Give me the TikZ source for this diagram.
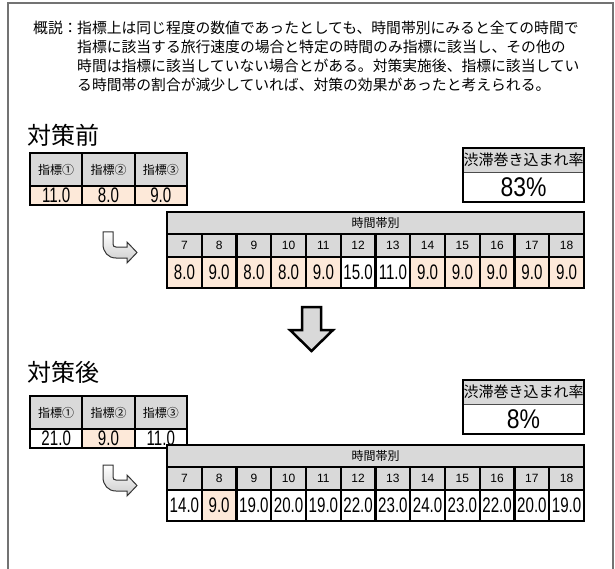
\documentclass[tikz,border=0pt]{standalone}
\usepackage{fontspec}
\newfontfamily\jp{Noto Sans CJK JP}
\newfontfamily\estreita[FakeStretch=0.72]{Liberation Sans}
\newfontfamily\largo[FakeStretch=0.85]{Liberation Sans}
\newfontfamily\arial{Liberation Sans}
\definecolor{cinza}{HTML}{D9D9D9}
\definecolor{pessego}{HTML}{FDE9D9}

\begin{document}
\begin{tikzpicture}[x=1pt, y=-1pt,
            txt/.style={inner sep=0, anchor=west, font=\jp\fontsize{14.8}{17}\selectfont},
            titulo/.style={inner sep=0, anchor=west, font=\jp\fontsize{24}{28}\selectfont},
            cel/.style={draw=black, line width=2.2pt, inner sep=0, fill=white},
            ind/.style={cel, fill=cinza, minimum width=52.3pt, minimum height=33pt, font=\jp\fontsize{12}{14}\selectfont},
            indval/.style={cel, minimum width=52.3pt, minimum height=19pt, font=\estreita\fontsize{21}{21}\selectfont},
            faixa/.style={cel, fill=cinza, minimum width=417pt, minimum height=22pt, font=\jp\fontsize{12}{14}\selectfont},
            hora/.style={cel, fill=cinza, minimum width=34.75pt, minimum height=23pt, font=\arial\fontsize{12}{14}\selectfont},
            val/.style={cel, minimum width=34.75pt, minimum height=31pt, font=\estreita\fontsize{21}{21}\selectfont},
            ok/.style={fill=pessego},
            taxacab/.style={inner sep=0, fill=cinza, minimum width=121pt, minimum height=24pt, font=\jp\fontsize{15}{17}\selectfont},
            taxaval/.style={inner sep=0, fill=white, minimum width=121pt, minimum height=30pt, font=\largo\fontsize{27}{27}\selectfont},
            curva/.style={draw=black!80, line width=1pt, top color=white, bottom color=black!20},
            baixo/.style={draw=black, line width=2.5pt, fill=cinza, line join=miter},
        ]
        \useasboundingbox (0,0) rectangle (615,569);
        \draw[black!55, line width=1.5pt] (8,575) -- (8,3) -- (613,3) -- (613,575);

        % resumo
        \node[txt] (rot) at (33,28) {概説：};
        \node[txt] (l1) at (77,28) {指標上は同じ程度の数値であったとしても、時間帯別にみると全ての時間で};
        \node[txt] (l2) at (77,47) {指標に該当する旅行速度の場合と特定の時間のみ指標に該当し、その他の};
        \node[txt] (l3) at (77,66) {時間は指標に該当していない場合とがある。対策実施後、指標に該当してい};
        \node[txt] (l4) at (77,85) {る時間帯の割合が減少していれば、対策の効果があったと考えられる。};

        % antes
        \node[titulo] (antes) at (27,135) {対策前};
        \node[ind] (i1) at (56.2,169.5) {指標①};
        \node[ind] (i2) at (108.5,169.5) {指標②};
        \node[ind] (i3) at (160.8,169.5) {指標③};
        \node[indval, ok] (n1) at (56.2,195.5) {11.0};
        \node[indval, ok] (n2) at (108.5,195.5) {8.0};
        \node[indval, ok] (n3) at (160.8,195.5) {9.0};

        \node[taxacab] (ta) at (523.5,160) {渋滞巻き込まれ率};
        \node[taxaval] (tv) at (523.5,187) {83\%};
        \draw[black!70, line width=0.8pt] (ta.south west) -- (ta.south east);
        \draw[line width=2.5pt] (ta.north west) rectangle (tv.south east);

        \node[faixa] (fa) at (375.5,223) {時間帯別};
        \node[hora] (ha7) at (184.4,245.5) {7};
        \node[hora] (ha8) at (219.1,245.5) {8};
        \node[hora] (ha9) at (253.9,245.5) {9};
        \node[hora] (ha10) at (288.6,245.5) {10};
        \node[hora] (ha11) at (323.4,245.5) {11};
        \node[hora] (ha12) at (358.1,245.5) {12};
        \node[hora] (ha13) at (392.9,245.5) {13};
        \node[hora] (ha14) at (427.6,245.5) {14};
        \node[hora] (ha15) at (462.4,245.5) {15};
        \node[hora] (ha16) at (497.1,245.5) {16};
        \node[hora] (ha17) at (531.9,245.5) {17};
        \node[hora] (ha18) at (566.6,245.5) {18};
        \node[val, ok] (va7) at (184.4,272.5) {8.0};
        \node[val, ok] (va8) at (219.1,272.5) {9.0};
        \node[val, ok] (va9) at (253.9,272.5) {8.0};
        \node[val, ok] (va10) at (288.6,272.5) {8.0};
        \node[val, ok] (va11) at (323.4,272.5) {9.0};
        \node[val] (va12) at (358.1,272.5) {15.0};
        \node[val] (va13) at (392.9,272.5) {11.0};
        \node[val, ok] (va14) at (427.6,272.5) {9.0};
        \node[val, ok] (va15) at (462.4,272.5) {9.0};
        \node[val, ok] (va16) at (497.1,272.5) {9.0};
        \node[val, ok] (va17) at (531.9,272.5) {9.0};
        \node[val, ok] (va18) at (566.6,272.5) {9.0};

        \draw[curva] (103,232) -- (103,244) .. controls (103,252) and (108,258) .. (116,258)
            -- (127,258) -- (127,263) -- (137,252.5) -- (127,242) -- (127,247) -- (116,247)
            .. controls (114,247) and (113,246) .. (113,244) -- (113,232) -- cycle;

        % seta
        \draw[baixo] (302,307) -- (321,307) -- (321,330) -- (333,330) -- (311.5,351)
            -- (290,330) -- (302,330) -- cycle;

        % depois
        \node[titulo] (depois) at (27,372) {対策後};
        \node[ind] (j1) at (56.2,412.5) {指標①};
        \node[ind] (j2) at (108.5,412.5) {指標②};
        \node[ind] (j3) at (160.8,412.5) {指標③};
        \node[indval] (m1) at (56.2,438.5) {21.0};
        \node[indval, ok] (m2) at (108.5,438.5) {9.0};
        \node[indval] (m3) at (160.8,438.5) {11.0};

        \node[taxacab] (tb) at (523.5,392) {渋滞巻き込まれ率};
        \node[taxaval] (tw) at (523.5,419) {8\%};
        \draw[black!70, line width=0.8pt] (tb.south west) -- (tb.south east);
        \draw[line width=2.5pt] (tb.north west) rectangle (tw.south east);

        \node[faixa] (fb) at (375.5,456) {時間帯別};
        \node[hora] (hb7) at (184.4,478.5) {7};
        \node[hora] (hb8) at (219.1,478.5) {8};
        \node[hora] (hb9) at (253.9,478.5) {9};
        \node[hora] (hb10) at (288.6,478.5) {10};
        \node[hora] (hb11) at (323.4,478.5) {11};
        \node[hora] (hb12) at (358.1,478.5) {12};
        \node[hora] (hb13) at (392.9,478.5) {13};
        \node[hora] (hb14) at (427.6,478.5) {14};
        \node[hora] (hb15) at (462.4,478.5) {15};
        \node[hora] (hb16) at (497.1,478.5) {16};
        \node[hora] (hb17) at (531.9,478.5) {17};
        \node[hora] (hb18) at (566.6,478.5) {18};
        \node[val] (vb7) at (184.4,505.5) {14.0};
        \node[val, ok] (vb8) at (219.1,505.5) {9.0};
        \node[val] (vb9) at (253.9,505.5) {19.0};
        \node[val] (vb10) at (288.6,505.5) {20.0};
        \node[val] (vb11) at (323.4,505.5) {19.0};
        \node[val] (vb12) at (358.1,505.5) {22.0};
        \node[val] (vb13) at (392.9,505.5) {23.0};
        \node[val] (vb14) at (427.6,505.5) {24.0};
        \node[val] (vb15) at (462.4,505.5) {23.0};
        \node[val] (vb16) at (497.1,505.5) {22.0};
        \node[val] (vb17) at (531.9,505.5) {20.0};
        \node[val] (vb18) at (566.6,505.5) {19.0};

        \draw[curva, shift={(0,233)}] (103,232) -- (103,244) .. controls (103,252) and (108,258) .. (116,258)
            -- (127,258) -- (127,263) -- (137,252.5) -- (127,242) -- (127,247) -- (116,247)
            .. controls (114,247) and (113,246) .. (113,244) -- (113,232) -- cycle;

    \end{tikzpicture}
\end{document}
